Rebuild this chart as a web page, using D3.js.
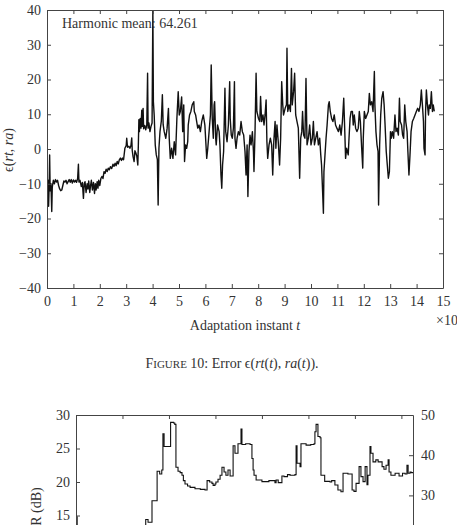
<!DOCTYPE html>
<html>
<head>
<meta charset="utf-8">
<script src="https://cdn.jsdelivr.net/npm/d3@7"></script>
<style>
  body { margin: 0; background: #fff; }
  svg text { font-family: "Liberation Serif", "DejaVu Serif", serif; fill: #333; }
  .axis path, .axis line { stroke: #444; }
</style>
</head>
<body>
<div id="chart"></div>
<script>
// Figure 10: error between rt and ra as [t, error]
var errSeg1 = [[0.00,-10],[0.02,-14],[0.04,-9],[0.06,-16.5],[0.08,-11],[0.10,-1.7],[0.12,-12],[0.15,-10],[0.18,-18],[0.20,-11],[0.24,-9],[0.28,-10],[0.32,-8.8],[0.36,-9.5],[0.40,-9],[0.44,-10.5],[0.48,-11.5],[0.52,-12],[0.56,-11.8],[0.60,-10.5],[0.64,-9.2],[0.68,-9.5],[0.72,-9],[0.76,-10],[0.80,-9.4],[0.84,-8.8],[0.88,-9.6],[0.92,-8.8],[0.96,-9.8],[1.00,-8.9],[1.04,-9.5],[1.08,-9],[1.12,-9.6],[1.16,-8.5],[1.19,-4.4],[1.21,-9.5],[1.25,-9],[1.30,-10.8],[1.34,-9.6],[1.38,-14.2],[1.41,-10],[1.44,-9.4],[1.48,-12.5],[1.52,-10],[1.55,-11.5],[1.58,-9.2],[1.62,-12.5],[1.65,-10.5],[1.68,-9],[1.72,-11.8],[1.76,-9.6],[1.80,-12.8],[1.83,-10],[1.86,-11.8],[1.90,-9.4],[1.93,-11.3],[1.96,-9.0],[2.00,-10.5],[2.04,-8.5],[2.08,-7.9],[2.12,-8.5],[2.16,-6.5],[2.20,-7.0],[2.24,-5.8],[2.28,-6.5],[2.32,-5.5],[2.36,-6.0],[2.40,-5.1],[2.45,-5.6],[2.50,-4.4],[2.54,-5.0],[2.58,-4.1],[2.62,-4.8],[2.66,-3.6],[2.70,-4.3],[2.74,-3.1],[2.78,-2.6],[2.82,-3.3],[2.86,-2.6],[2.90,-3.1],[2.95,0.2],[3.00,1.0],[3.02,3.1],[3.05,0.5],[3.10,0.8],[3.14,0.2],[3.18,1.0],[3.21,3.2],[3.23,-0.5],[3.26,-2.2],[3.30,-3.6],[3.33,-0.5],[3.36,-1.0],[3.40,-2.0],[3.44,-4.6],[3.46,1.1],[3.48,8.4],[3.50,5.0],[3.53,8.8],[3.56,6.0],[3.59,11.2],[3.61,6.5],[3.64,11.7],[3.66,5.8],[3.70,6.8],[3.74,5.5],[3.78,7.0]];
var errSeg2 = [[3.81,21.8],[3.83,6.0],[3.86,7.5],[3.90,5.0],[3.94,6.5],[3.98,7.5],[4.01,40],[4.03,13.6],[4.06,9.8],[4.10,1.2],[4.14,-1.7],[4.18,-3.0],[4.21,-16.1],[4.24,0.2],[4.28,5.0],[4.33,8.0],[4.37,15.6],[4.40,7.0],[4.44,5.0],[4.50,3.1],[4.55,6.0],[4.60,11.7],[4.63,3.1],[4.67,-2.7],[4.72,0.2],[4.77,-2.7],[4.82,2.1],[4.87,-1.7],[4.92,8.8],[4.97,16.5],[5.01,9.8],[5.05,10.8],[5.10,15.0],[5.14,5.0],[5.18,12.7],[5.21,-3.6],[5.25,1.2],[5.29,0.2],[5.33,2.1],[5.35,6.9],[5.40,9.8],[5.45,10.8],[5.50,12.7],[5.56,13.6],[5.58,10.8],[5.63,9.8],[5.67,7.9],[5.71,6.0],[5.76,6.9],[5.81,5.0],[5.86,7.9],[5.92,9.8],[5.98,6.9],[6.05,-2.7],[6.09,0.2],[6.14,5.0],[6.19,9.8],[6.22,24.2],[6.26,8.8],[6.30,3.1],[6.33,12.7],[6.35,13.6],[6.39,3.1],[6.41,1.2],[6.46,6.9],[6.52,5.0],[6.55,1.2],[6.59,-7.5],[6.62,-11.3],[6.65,-4.6],[6.69,-0.7],[6.74,17.5],[6.77,5.0],[6.82,2.1],[6.87,6.9],[6.92,19.4],[6.94,8.8],[6.98,4.0],[7.02,3.1],[7.06,6.0],[7.10,19.4],[7.12,3.1],[7.16,0.2],[7.20,3.1],[7.25,5.0],[7.30,4.0],[7.35,7.9],[7.40,5.0],[7.45,4.0],[7.50,-0.7],[7.54,-7.5],[7.58,1.2]];
var errSeg3 = [[7.61,-13.7],[7.65,-0.7],[7.69,4.0],[7.73,1.2],[7.78,5.0],[7.82,-0.7],[7.84,-6.5],[7.88,5.0],[7.92,21.8],[7.95,10.8],[8.01,8.8],[8.06,7.9],[8.09,15.1],[8.13,7.9],[8.18,9.8],[8.22,6.9],[8.26,9.8],[8.30,14.1],[8.33,2.1],[8.36,-2.7],[8.41,1.2],[8.46,3.1],[8.51,1.2],[8.55,-7.5],[8.59,2.1],[8.64,7.9],[8.67,0.2],[8.71,6.9],[8.76,2.1],[8.81,-4.6],[8.85,3.1],[8.89,19.4],[8.93,12.7],[8.96,9.8],[9.02,11.7],[9.07,12.7],[9.09,29.0],[9.12,10.8],[9.17,12.7],[9.22,10.8],[9.26,23.2],[9.29,12.7],[9.34,16.5],[9.38,21.8],[9.42,9.8],[9.47,7.9],[9.52,6.0],[9.57,-8.4],[9.61,3.1],[9.65,5.0],[9.68,10.8],[9.72,4.0],[9.77,3.1],[9.81,20.3],[9.85,1.2],[9.90,3.1],[9.95,6.9],[10.00,1.2],[10.05,3.1],[10.09,7.9],[10.13,1.2],[10.18,3.1],[10.23,5.0],[10.28,1.2],[10.33,3.1],[10.37,-1.7],[10.40,-4.6],[10.44,-12.3],[10.47,-18.5],[10.49,-6.5],[10.53,-1.7],[10.57,3.1],[10.61,6.9],[10.66,12.7],[10.69,13.6],[10.73,10.8],[10.78,8.8],[10.83,7.9],[10.88,9.8],[10.93,6.9],[10.98,6.0],[11.04,5.0],[11.09,6.9],[11.14,4.0],[11.19,7.9],[11.24,14.6],[11.28,5.0],[11.31,-2.7],[11.35,0.2]];
var errSeg4 = [[11.41,-1.7],[11.44,3.1],[11.48,8.8],[11.52,10.8],[11.57,10.8],[11.60,6.9],[11.64,9.8],[11.69,6.0],[11.74,5.0],[11.79,6.0],[11.83,10.8],[11.87,7.9],[11.92,0.2],[11.96,-5.5],[11.98,3.1],[12.02,10.8],[12.07,8.8],[12.12,9.8],[12.17,10.8],[12.21,16.0],[12.25,12.7],[12.30,13.6],[12.35,10.8],[12.40,22.3],[12.42,12.7],[12.46,5.0],[12.50,1.2],[12.54,-0.7],[12.56,-16.1],[12.60,1.2],[12.64,9.8],[12.68,14.6],[12.73,16.5],[12.77,12.7],[12.80,7.9],[12.85,-0.7],[12.89,-4.6],[12.93,-8.4],[12.97,-6.5],[13.01,5.0],[13.04,3.1],[13.08,5.0],[13.13,3.1],[13.18,9.8],[13.22,5.0],[13.26,6.0],[13.31,4.0],[13.35,14.6],[13.38,7.9],[13.43,6.9],[13.47,4.0],[13.51,3.1],[13.55,12.7],[13.59,7.9],[13.64,5.0],[13.67,-0.7],[13.71,-7.5],[13.75,-1.7],[13.79,5.0],[13.84,7.9],[13.89,8.8],[13.94,9.8],[13.99,10.8],[14.04,11.7],[14.09,10.8],[14.14,12.7],[14.18,17.0],[14.22,12.7],[14.26,7.9],[14.28,0.2],[14.32,-1.7],[14.34,10.8],[14.37,17.0],[14.41,12.7],[14.45,9.8],[14.48,12.7],[14.52,11.7],[14.56,16.5],[14.60,10.8],[14.63,12.7],[14.67,10.8]];

// Second figure (only top part visible): SNR in dB, step trace [t, dB]
var snrTrace = [[0,14.8],[0.05,12.5],[0.5,11.5],[1.5,11.8],[2.5,12.2],[2.9,13.0],[3.0,14.4],[3.1,14.0],[3.27,17.2],[3.49,21.6],[3.6,21.2],[3.69,21.8],[3.74,27.2],[3.79,25.3],[4.07,28.9],[4.2,28.8],[4.25,28.6],[4.30,22.2],[4.39,21.6],[4.48,21.4],[4.56,21.0],[4.62,20.2],[4.69,19.7],[4.8,19.4],[4.91,19.2],[5.12,19.0],[5.35,18.9],[5.55,18.8],[5.64,20.2],[5.75,20.0],[5.85,19.8],[5.90,19.5],[5.98,19.7],[6.02,20.0],[6.11,20.4],[6.2,21.0],[6.28,22.2],[6.37,21.5],[6.45,21.0],[6.54,21.8],[6.63,20.9],[6.76,25.4],[6.84,24.3],[6.97,25.7],[7.10,27.9],[7.14,25.6],[7.3,25.7],[7.49,25.6],[7.57,23.5],[7.62,21.8],[7.66,21.0],[7.75,20.3],[8.00,20.05],[8.3,20.2],[8.56,19.9],[8.61,20.3],[8.7,19.9],[8.86,20.9],[8.95,20.8],[9.1,21.1],[9.21,21.0],[9.42,21.1],[9.47,25.4],[9.51,22.8],[9.64,22.3],[9.68,25.7],[9.9,25.5],[10.1,25.6],[10.24,25.7],[10.28,27.5],[10.33,28.6],[10.41,26.8],[10.50,26.6],[10.54,21.0],[10.7,20.1],[10.93,20.0],[11.0,20.2],[11.14,19.55],[11.27,18.8],[11.40,18.55],[11.49,21.3],[11.7,21.2],[11.88,18.8],[11.96,18.6],[12.05,19.8],[12.18,22.3],[12.26,20.8],[12.35,20.05],[12.44,22.3],[12.52,19.6],[12.56,21.0],[12.65,25.3],[12.69,24.3],[12.78,23.0],[12.9,23.3],[13.00,23.0],[13.17,22.3],[13.25,21.9],[13.34,22.5],[13.43,23.3],[13.47,21.5],[13.55,21.0],[13.73,21.3],[13.9,20.9],[14.05,21.3],[14.16,21.2],[14.24,22.5],[14.29,21.3],[14.37,21.5],[14.42,21.4],[14.5,21.4]];

var topTicksX = d3.range(0, 16, 1);
var topTicksY = d3.range(-40, 41, 10);
var botTicksX = d3.range(0, 15, 2);
var botTicksLeft = [15, 20, 25, 30];   // the ones that reach the page
var botTicksRight = [30, 40, 50];

var width = 457, height = 525;
var fs = "14px";

var svg = d3.select("#chart").append("svg")
    .attr("width", width)
    .attr("height", height);

// ---------- Figure 10 ----------
var x = d3.scaleLinear().domain([0, 15]).range([47, 443]);
var y = d3.scaleLinear().domain([-40, 40]).range([288, 10]);

svg.append("clipPath").attr("id", "clipTop")
  .append("rect")
    .attr("x", x(0)).attr("y", y(40))
    .attr("width", x(15) - x(0)).attr("height", y(-40) - y(40));

var errData = errSeg1.concat(errSeg2, errSeg3, errSeg4);
var line = d3.line()
    .x(function(d) { return x(d[0]); })
    .y(function(d) { return y(d[1]); });

svg.append("path")
    .datum(errData)
    .attr("clip-path", "url(#clipTop)")
    .attr("fill", "none")
    .attr("stroke", "#111")
    .attr("stroke-width", 1.4)
    .attr("stroke-linejoin", "round")
    .attr("d", line);

// axes (ticks drawn inward, box on all sides)
svg.append("g").attr("class", "axis")
    .attr("transform", "translate(0," + y(-40) + ")")
    .call(d3.axisBottom(x).tickValues(topTicksX).tickSizeInner(-4).tickSizeOuter(0).tickPadding(8))
    .call(function(g) { g.selectAll("text").attr("font-size", fs).attr("font-family", null); });
svg.append("g").attr("class", "axis")
    .attr("transform", "translate(0," + y(40) + ")")
    .call(d3.axisTop(x).tickValues(topTicksX).tickSizeInner(-4).tickSizeOuter(0).tickFormat(""));
svg.append("g").attr("class", "axis")
    .attr("transform", "translate(" + x(0) + ",0)")
    .call(d3.axisLeft(y).tickValues(topTicksY).tickSizeInner(-4).tickSizeOuter(0).tickPadding(6))
    .call(function(g) { g.selectAll("text").attr("font-size", fs).attr("font-family", null); });
svg.append("g").attr("class", "axis")
    .attr("transform", "translate(" + x(15) + ",0)")
    .call(d3.axisRight(y).tickValues(topTicksY).tickSizeInner(-4).tickSizeOuter(0).tickFormat(""));

svg.selectAll(".axis text").attr("fill", "#333");

svg.append("text")
    .attr("x", 62).attr("y", 28)
    .attr("font-size", fs)
    .text("Harmonic mean: 64.261");

var xl = svg.append("text")
    .attr("x", (x(0) + x(15)) / 2).attr("y", 330)
    .attr("text-anchor", "middle")
    .attr("font-size", fs);
xl.append("tspan").text("Adaptation instant ");
xl.append("tspan").attr("font-style", "italic").text("t");

svg.append("text")
    .attr("x", 436).attr("y", 325)
    .attr("font-size", fs)
    .text("×10");

var yl = svg.append("text")
    .attr("transform", "translate(13," + (y(0) + 1) + ") rotate(-90)")
    .attr("text-anchor", "middle")
    .attr("font-size", fs);
yl.append("tspan").text("ϵ(");
yl.append("tspan").attr("font-style", "italic").text("rt");
yl.append("tspan").text(", ");
yl.append("tspan").attr("font-style", "italic").text("ra");
yl.append("tspan").text(")");

// caption
var cap = svg.append("text")
    .attr("x", 232).attr("y", 368)
    .attr("text-anchor", "middle")
    .attr("font-size", fs);
cap.append("tspan").text("F");
cap.append("tspan").attr("font-size", "11px").text("IGURE");
cap.append("tspan").text(" 10: Error ϵ(");
cap.append("tspan").attr("font-style", "italic").text("rt");
cap.append("tspan").text("(");
cap.append("tspan").attr("font-style", "italic").text("t");
cap.append("tspan").text("), ");
cap.append("tspan").attr("font-style", "italic").text("ra");
cap.append("tspan").text("(");
cap.append("tspan").attr("font-style", "italic").text("t");
cap.append("tspan").text(")).");

// ---------- second figure (cut off by the page) ----------
var x2 = d3.scaleLinear().domain([0, 14.5]).range([76, 413]);
var yL = d3.scaleLinear().domain([0, 30]).range([616, 415]);
var yR = d3.scaleLinear().domain([0, 50]).range([616, 415]);

var stepLine = d3.line()
    .curve(d3.curveStepAfter)
    .x(function(d) { return x2(d[0]); })
    .y(function(d) { return yL(d[1]); });

svg.append("path")
    .datum(snrTrace)
    .attr("fill", "none")
    .attr("stroke", "#111")
    .attr("stroke-width", 1.1)
    .attr("d", stepLine);

svg.append("g").attr("class", "axis")
    .attr("transform", "translate(0," + yL(30) + ")")
    .call(d3.axisTop(x2).tickValues(botTicksX).tickSizeInner(-4).tickSizeOuter(0).tickFormat(""));
svg.append("g").attr("class", "axis")
    .attr("transform", "translate(" + x2(0) + ",0)")
    .call(d3.axisLeft(yL).tickValues(botTicksLeft).tickSizeInner(-4).tickSizeOuter(0).tickPadding(6))
    .call(function(g) { g.selectAll("text").attr("font-size", fs).attr("font-family", null).attr("fill", "#333"); });
svg.append("g").attr("class", "axis")
    .attr("transform", "translate(" + x2(14.5) + ",0)")
    .call(d3.axisRight(yR).tickValues(botTicksRight).tickSizeInner(-4).tickSizeOuter(0).tickPadding(8))
    .call(function(g) { g.selectAll("text").attr("font-size", fs).attr("font-family", null).attr("fill", "#333"); });

svg.append("text")
    .attr("transform", "translate(41," + yL(15) + ") rotate(-90)")
    .attr("text-anchor", "middle")
    .attr("font-size", fs)
    .text("SNR (dB)");
</script>
</body>
</html>
